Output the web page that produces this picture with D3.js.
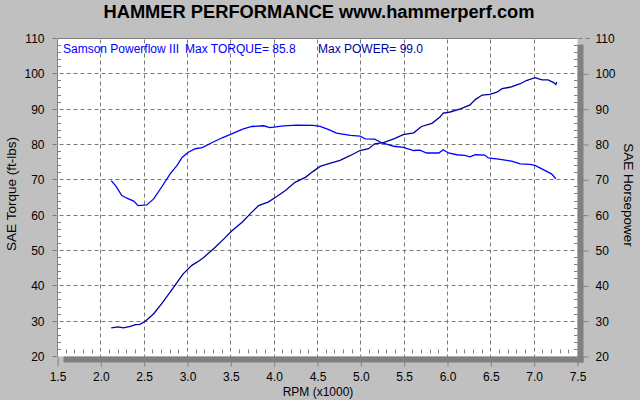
<!DOCTYPE html>
<html><head><meta charset="utf-8">
<script src="https://cdn.jsdelivr.net/npm/d3@7"></script>
<style>
html,body{margin:0;padding:0;background:#c0c0c0;}
svg{display:block;font-family:"Liberation Sans",Arial,sans-serif;}
</style></head>
<body>
<svg id="chart" width="640" height="400"></svg>
<script>
const titleText = "HAMMER PERFORMANCE www.hammerperf.com";
const legendName = "Samson Powerflow III";
const legendTorque = "Max TORQUE= 85.8";
const legendPower = "Max POWER= 99.0";
const xLabel = "RPM (x1000)";
const yLeftLabel = "SAE Torque (ft-lbs)";
const yRightLabel = "SAE Horsepower";

const xTicks = [1.5,2.0,2.5,3.0,3.5,4.0,4.5,5.0,5.5,6.0,6.5,7.0,7.5];
const yTicks = [20,30,40,50,60,70,80,90,100,110];

const torqueRpm = [2.12,2.18,2.24,2.30,2.38,2.43,2.53,2.61,2.70,2.80,2.88,2.94,3.01,3.09,3.17,3.28,3.40,3.51,3.63,3.74,3.88,3.95,4.11,4.26,4.45,4.53,4.63,4.72,4.88,4.99,5.05,5.16,5.24,5.38,5.49,5.61,5.68,5.76,5.90,5.95,6.01,6.11,6.20,6.26,6.32,6.43,6.47,6.61,6.74,6.84,6.95,7.01,7.11,7.20,7.25];
const torqueVal = [69.8,68.0,65.6,64.8,64.0,62.7,62.9,64.6,67.9,71.7,74.1,76.4,77.8,78.8,79.1,80.5,81.9,83.0,84.3,85.1,85.3,84.8,85.3,85.5,85.4,85.1,84.2,83.2,82.6,82.4,81.6,81.5,80.5,79.5,79.2,78.3,78.4,77.6,77.6,78.5,77.6,77.1,76.9,76.5,77.1,77.0,76.2,75.8,75.3,74.5,74.4,74.1,72.8,71.7,70.3];

const powerRpm = [2.12,2.20,2.26,2.34,2.40,2.45,2.51,2.61,2.70,2.80,2.88,2.95,3.05,3.11,3.18,3.32,3.42,3.51,3.63,3.74,3.82,3.93,4.03,4.13,4.24,4.36,4.45,4.53,4.65,4.76,4.88,4.99,5.09,5.16,5.26,5.38,5.49,5.61,5.70,5.82,5.91,5.95,6.03,6.15,6.26,6.32,6.40,6.49,6.57,6.63,6.72,6.84,6.91,7.01,7.09,7.16,7.22,7.25,7.26];
const powerVal = [28.1,28.4,28.1,28.5,29.0,29.1,29.9,32.1,34.9,38.2,41.0,43.4,45.8,46.7,47.9,50.9,53.3,55.5,58.0,60.8,62.7,63.7,65.3,67.0,69.3,70.7,72.4,73.8,74.7,75.5,76.9,78.3,78.8,80.2,80.5,81.6,82.8,83.3,85.1,86.0,87.7,88.9,89.2,90.1,91.2,92.7,94.0,94.2,94.8,95.8,96.2,97.2,98.1,98.9,98.3,98.3,97.6,97.0,97.7];

const L = 57.5, R = 577.5, T = 38.5, B = 356.5;
const x = d3.scaleLinear().domain([1.5,7.5]).range([L,R]);
const y = d3.scaleLinear().domain([20,110]).range([B,T]);
const px = v => Math.round(x(v)-0.5)+0.5;
const py = v => Math.round(y(v)-0.5)+0.5;
const gridColor = "#808080";

const svg = d3.select("#chart");
svg.append("rect").attr("width",640).attr("height",400).attr("fill","#c0c0c0");
// plot area
svg.append("rect").attr("x",L).attr("y",T).attr("width",R-L).attr("height",B-T).attr("fill","#ffffff");

// minor ticks
const minorY = d3.range(22,110,2).filter(v=>v%10!==0);
const minorX = d3.range(16,75,1).map(v=>v/10).filter(v=>Math.round(v*10)%5!==0);
const minor = svg.append("g").attr("stroke",gridColor);
minor.selectAll("line.ml").data(minorY).join("line").attr("class","ml")
  .attr("x1",L).attr("x2",L+3.5).attr("y1",d=>py(d)).attr("y2",d=>py(d));
minor.selectAll("line.mr").data(minorY).join("line").attr("class","mr")
  .attr("x1",R-3.5).attr("x2",R).attr("y1",d=>py(d)).attr("y2",d=>py(d));
minor.selectAll("line.mb").data(minorX).join("line").attr("class","mb")
  .attr("x1",d=>px(d)).attr("x2",d=>px(d)).attr("y1",B-7).attr("y2",B-3);

// major outer ticks + labels via d3 axes
const axR = svg.append("g").attr("transform",`translate(${R},0)`)
  .call(d3.axisRight(y).tickValues(yTicks.slice(0,-1)).tickSize(11).tickPadding(7).tickFormat(d3.format("d")));
const axR2 = svg.append("g").attr("transform",`translate(${R},0)`)
  .call(d3.axisRight(y).tickValues([110]).tickSize(0).tickPadding(18).tickFormat(d3.format("d")));
const axB = svg.append("g").attr("transform",`translate(0,${B})`)
  .call(d3.axisBottom(x).tickValues(xTicks).tickSize(10).tickPadding(6).tickFormat(d3.format(".1f")));
const axL = svg.append("g").attr("transform",`translate(${L},0)`)
  .call(d3.axisLeft(y).tickValues(yTicks).tickSize(0).tickPadding(13).tickFormat(d3.format("d")));
[axL,axR,axR2,axB].forEach(a=>{
  a.select(".domain").remove();
  a.selectAll("line").attr("stroke",gridColor);
  a.selectAll("text").attr("fill","#000").style("font-size","12px").style("font-family","'Liberation Sans',Arial,sans-serif");
});

// shadow (3D frame)
svg.append("rect").attr("x",R).attr("y",T+6).attr("width",6).attr("height",B-T).attr("fill","#808080");
svg.append("rect").attr("x",L+6).attr("y",B).attr("width",R-L).attr("height",6).attr("fill","#808080");
// left & top border
svg.append("line").attr("x1",L).attr("x2",L).attr("y1",T).attr("y2",B).attr("stroke","#808080");
svg.append("line").attr("x1",L).attr("x2",R).attr("y1",T).attr("y2",T).attr("stroke","#808080");

// grid lines (dashed), drawn on top of the frame pieces
const gridV = svg.append("g").attr("stroke","#7a7a7a").attr("stroke-width",1).attr("stroke-dasharray","4 3");
gridV.selectAll("line").data(xTicks.slice(1,-1)).join("line")
  .attr("x1",d=>px(d)).attr("x2",d=>px(d)).attr("y1",T+1).attr("y2",B);
const gridH = svg.append("g").attr("stroke","#7a7a7a").attr("stroke-width",1).attr("stroke-dasharray","4 3");
gridH.selectAll("line").data(yTicks.slice(1)).join("line")
  .attr("x1",L-5).attr("x2",R).attr("y1",d=>py(d)).attr("y2",d=>py(d));
gridH.append("line").attr("x1",L-5).attr("x2",L).attr("y1",py(20)).attr("y2",py(20));
gridH.append("line").attr("x1",R+1).attr("x2",R+12).attr("y1",py(110)).attr("y2",py(110));

// curves
const line = d3.line().x(d=>x(d[0])).y(d=>y(d[1]));
svg.append("path").datum(torqueRpm.map((r,i)=>[r,torqueVal[i]]))
  .attr("d",line).attr("fill","none").attr("stroke","#0000ff").attr("stroke-width",1.3);
svg.append("path").datum(powerRpm.map((r,i)=>[r,powerVal[i]]))
  .attr("d",line).attr("fill","none").attr("stroke","#0000a0").attr("stroke-width",1.3);

// legend text
const lg = svg.append("g").style("font-size","12px");
lg.append("text").attr("x",63).attr("y",53).attr("fill","#0000ff").text(legendName);
lg.append("text").attr("x",185).attr("y",53).attr("fill","#0000ff").text(legendTorque);
lg.append("text").attr("x",318).attr("y",53).attr("fill","#0000a0").text(legendPower);

// title
svg.append("text").attr("x",319).attr("y",18).attr("text-anchor","middle")
  .style("font-size","18.3px").style("font-weight","bold").attr("fill","#000").text(titleText);

// axis titles
svg.append("text").attr("x",318).attr("y",396).attr("text-anchor","middle")
  .style("font-size","12px").attr("fill","#000").text(xLabel);
svg.append("text").attr("transform","translate(16,194) rotate(-90)").attr("text-anchor","middle")
  .style("font-size","13.5px").attr("fill","#000").text(yLeftLabel);
svg.append("text").attr("transform","translate(624,195) rotate(90)").attr("text-anchor","middle")
  .style("font-size","13.5px").attr("fill","#000").text(yRightLabel);
</script>
</body></html>
